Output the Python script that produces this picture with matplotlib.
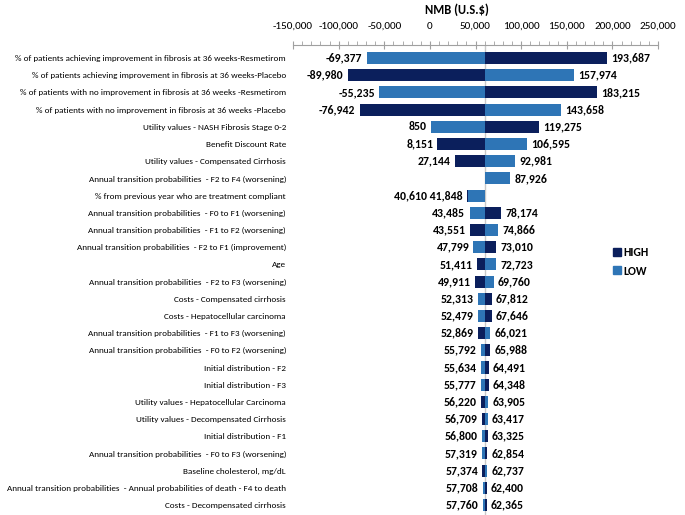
import numpy as np
import matplotlib.pyplot as plt
from matplotlib.ticker import MultipleLocator, FuncFormatter
from matplotlib.lines import Line2D

plt.rcParams['font.family'] = ['Carlito', 'Liberation Sans', 'DejaVu Sans']

# rows, top to bottom
labels = [
    "% of patients achieving improvement in fibrosis at 36 weeks-Resmetirom",
    "% of patients achieving improvement in fibrosis at 36 weeks-Placebo",
    "% of patients with no improvement in fibrosis at 36 weeks -Resmetirom",
    "% of patients with no improvement in fibrosis at 36 weeks -Placebo",
    "Utility values - NASH Fibrosis Stage 0-2",
    "Benefit Discount Rate",
    "Utility values - Compensated Cirrhosis",
    "Annual transition probabilities  - F2 to F4 (worsening)",
    "% from previous year who are treatment compliant",
    "Annual transition probabilities  - F0 to F1 (worsening)",
    "Annual transition probabilities  - F1 to F2 (worsening)",
    "Annual transition probabilities  - F2 to F1 (improvement)",
    "Age",
    "Annual transition probabilities  - F2 to F3 (worsening)",
    "Costs - Compensated cirrhosis",
    "Costs - Hepatocellular carcinoma",
    "Annual transition probabilities  - F1 to F3 (worsening)",
    "Annual transition probabilities  - F0 to F2 (worsening)",
    "Initial distribution - F2",
    "Initial distribution - F3",
    "Utility values - Hepatocellular Carcinoma",
    "Utility values - Decompensated Cirrhosis",
    "Initial distribution - F1",
    "Annual transition probabilities  - F0 to F3 (worsening)",
    "Baseline cholesterol, mg/dL",
    "Annual transition probabilities  - Annual probabilities of death - F4 to death",
    "Costs - Decompensated cirrhosis",
]
low_vals = [-69377, 157974, -55235, 143658, 850, 106595, 92981, 87926, 41848,
            43485, 74866, 47799, 72723, 69760, 52313, 52479, 66021, 55792,
            55634, 55777, 63905, 63417, 56800, 57319, 62737, 57708, 57760]
high_vals = [193687, -89980, 183215, -76942, 119275, 8151, 27144, np.nan, 40610,
             78174, 43551, 73010, 51411, 49911, 67812, 67646, 52869, 65988,
             64491, 64348, 56220, 56709, 63325, 62854, 57374, 62400, 62365]
base = 60062

dark = '#0b1f5c'
light = '#2e75b6'

fig = plt.figure(figsize=(6.85, 5.15), dpi=100)
ax = fig.add_axes([293/685, 0.0, 365/685, 1 - 45/515])

y = np.arange(len(labels))
low = np.array(low_vals, dtype=float)
high = np.array(high_vals, dtype=float)
h = 0.7

ax.barh(y, np.nan_to_num(high - base), left=base, height=h, color=dark, zorder=2)
ax.barh(y, low - base, left=base, height=h, color=light, zorder=3)
ax.axvline(base, color='#c8c8c8', lw=1, zorder=1)

fmt = lambda v: f"{v:,.0f}"
for i in range(len(labels)):
    vals = [v for v in (low[i], high[i]) if not np.isnan(v)]
    left_v = sorted([v for v in vals if v < base])
    right_v = sorted([v for v in vals if v >= base])
    if left_v:
        ax.annotate(" ".join(fmt(v) for v in left_v), (min(left_v), i),
                    xytext=(-3, 0), textcoords='offset points', ha='right',
                    va='center', fontsize=8.5, fontweight='bold')
    if right_v:
        ax.annotate(" ".join(fmt(v) for v in right_v), (max(right_v), i),
                    xytext=(3, 0), textcoords='offset points', ha='left',
                    va='center', fontsize=8.5, fontweight='bold')

ax.set_xlim(-150000, 250000)
ax.set_ylim(len(labels) - 0.42, -0.76)
ax.set_yticks(y)
ax.set_yticklabels(labels, fontsize=6.6)
ax.tick_params(axis='y', length=0, pad=5)
ax.xaxis.tick_top()
ax.xaxis.set_major_locator(MultipleLocator(50000))
ax.xaxis.set_minor_locator(MultipleLocator(10000))
ax.xaxis.set_major_formatter(FuncFormatter(lambda v, p: f"{v:,.0f}"))
ax.tick_params(axis='x', which='major', direction='inout', length=6,
               color='#a0a0a0', labelsize=8, pad=7)
ax.tick_params(axis='x', which='minor', direction='out', length=3,
               color='#a0a0a0')
for s in ['left', 'right', 'bottom']:
    ax.spines[s].set_visible(False)
ax.spines['top'].set_color('#a0a0a0')

fig.text(457/685, 1 - 10/515, "NMB (U.S.$)", ha='center', va='center',
         fontsize=9, fontweight='bold')

handles = [Line2D([], [], marker='s', ls='', color=dark, markersize=6),
           Line2D([], [], marker='s', ls='', color=light, markersize=6)]
fig.legend(handles, ['HIGH', 'LOW'], loc='center left',
           bbox_to_anchor=(600/685, 1 - 262/515), frameon=False,
           handletextpad=0.1, labelspacing=0.6, handlelength=1,
           prop={'weight': 'bold', 'size': 8.5})

fig.savefig('out.png', dpi=100)
